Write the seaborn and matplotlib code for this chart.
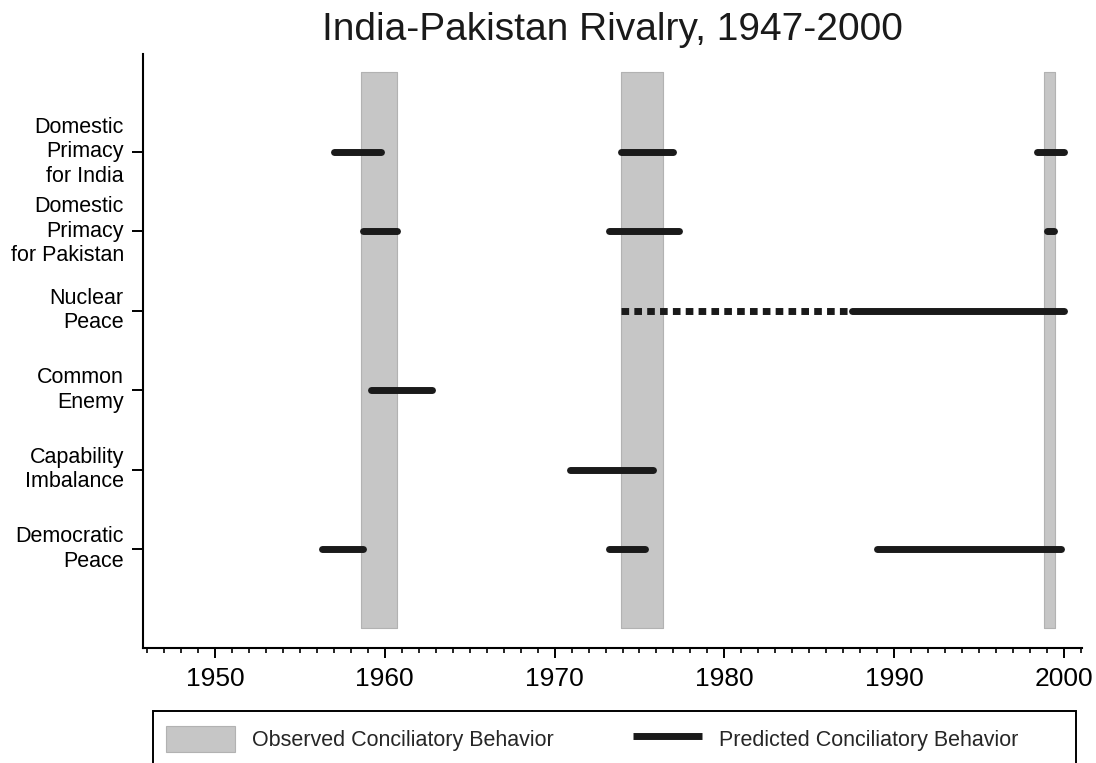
import numpy as np
import pandas as pd
import seaborn as sns
import matplotlib.pyplot as plt
from matplotlib.ticker import MultipleLocator
from matplotlib.patches import Patch, Rectangle
from matplotlib.lines import Line2D

# theories (top to bottom) and their tick labels
models = ["Domestic Primacy for India", "Domestic Primacy for Pakistan", "Nuclear Peace",
          "Common Enemy", "Capability Imbalance", "Democratic Peace"]
model_labels = ["Domestic\nPrimacy\nfor India", "Domestic\nPrimacy\nfor Pakistan", "Nuclear\nPeace",
                "Common\nEnemy", "Capability\nImbalance", "Democratic\nPeace"]

# observed conciliatory periods (grey bands)
obs_start = [1958.6, 1973.9, 1998.8]
obs_end = [1960.7, 1976.4, 1999.5]

# predicted conciliatory periods (black bars)
seg_model = ["Domestic Primacy for India", "Domestic Primacy for India", "Domestic Primacy for India",
             "Domestic Primacy for Pakistan", "Domestic Primacy for Pakistan", "Domestic Primacy for Pakistan",
             "Nuclear Peace", "Nuclear Peace",
             "Common Enemy",
             "Capability Imbalance",
             "Democratic Peace", "Democratic Peace", "Democratic Peace"]
seg_start = [1957.0, 1973.9, 1998.4, 1958.7, 1973.2, 1999.0, 1973.9, 1987.5, 1959.2, 1970.9, 1956.3, 1973.2, 1989.0]
seg_end = [1959.8, 1977.0, 2000.0, 1960.7, 1977.3, 1999.4, 1987.5, 2000.0, 1962.8, 1975.8, 1958.7, 1975.3, 1999.8]
seg_kind = ["solid", "solid", "solid", "solid", "solid", "solid", "dotted", "solid",
            "solid", "solid", "solid", "solid", "solid"]

year_ticks = [1950, 1960, 1970, 1980, 1990, 2000]

# long format table, one row per segment end
rows = []
for i, (m, s, e, k) in enumerate(zip(seg_model, seg_start, seg_end, seg_kind)):
    ypos = len(models) - models.index(m)
    rows.append({"seg": i, "year": s, "ypos": ypos, "kind": k})
    rows.append({"seg": i, "year": e, "ypos": ypos, "kind": k})
df = pd.DataFrame(rows)

sns.set_theme(style="ticks")
plt.rcParams['font.family'] = ['Liberation Sans', 'DejaVu Sans']

band_col = "#c6c6c6"
ink = "#1a1a1a"

fig = plt.figure(figsize=(10.96, 7.63), dpi=100)
ax = fig.add_axes([0.1305, 0.1511, 0.8567, 0.7781])

for s, e in zip(obs_start, obs_end):
    ax.fill_between([s, e], 0, len(models) + 1, color=band_col, edgecolor="#b2b2b2", lw=0.8, zorder=1)

sns.lineplot(data=df, x="year", y="ypos", units="seg", estimator=None, sort=False,
             style="kind", dashes={"solid": "", "dotted": (1.1, 0.75)},
             color=ink, linewidth=5, solid_capstyle="round", dash_capstyle="butt",
             legend=False, ax=ax, zorder=3)

ax.set_xlim(1945.76, 2001.06)
ax.set_ylim(-0.242, 7.23)
ax.set_xlabel("")
ax.set_ylabel("")

ax.set_xticks(year_ticks)
ax.set_xticklabels([str(y) for y in year_ticks], fontsize=19)
ax.xaxis.set_minor_locator(MultipleLocator(1))
ax.set_yticks(range(len(models), 0, -1))
ax.set_yticklabels(model_labels, fontsize=15.5, linespacing=1.22)
for t in ax.get_yticklabels():
    t.set_va("center")

ax.tick_params(axis="x", which="major", length=7.2, width=1.4, pad=6.5, colors="black")
ax.tick_params(axis="x", which="minor", length=3.6, width=1.2, colors="black")
ax.tick_params(axis="y", length=8, width=1.4, pad=5.8, colors="black")
sns.despine(ax=ax)
for sp in ["left", "bottom"]:
    ax.spines[sp].set_linewidth(1.5)
    ax.spines[sp].set_color("black")

ax.set_title("India-Pakistan Rivalry, 1947-2000", fontsize=28, pad=10, color=ink)

# legend
handles = [Patch(facecolor=band_col, edgecolor="#b2b2b2", lw=0.8),
           Line2D([], [], color=ink, lw=5, solid_capstyle="butt")]
labels = ["Observed Conciliatory Behavior", "Predicted Conciliatory Behavior"]
fig.legend(handles, labels, loc="center left", bbox_to_anchor=(166 / 1096, 1 - 739 / 763),
           ncols=2, frameon=False, fontsize=15.5, handlelength=3.2, handleheight=1.44,
           handletextpad=0.79, columnspacing=3.67, borderpad=0, borderaxespad=0)
fig.add_artist(Rectangle((153 / 1096, -0.05), (1076 - 153) / 1096, 1 - 711 / 763 + 0.05,
                         transform=fig.transFigure, fill=False, edgecolor="black", lw=1.4))

fig.savefig("out.png", dpi=100)
